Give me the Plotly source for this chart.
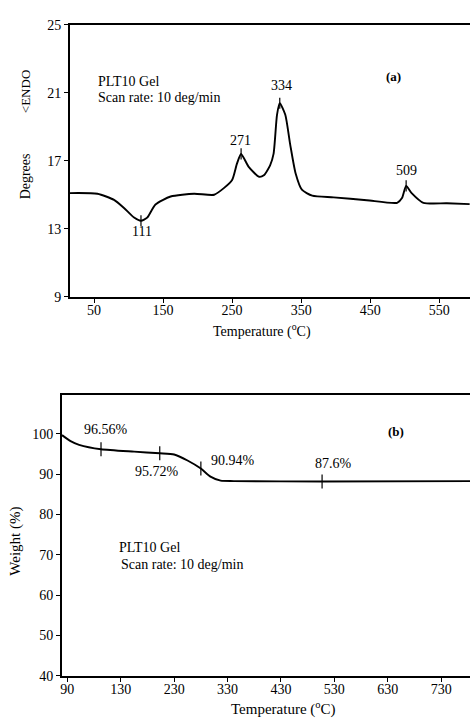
import plotly.graph_objects as go

# ---- Panel (a): DTA curve ----
dta_temp = [15, 55, 79, 93, 108, 118, 127, 139, 161, 195, 224, 238, 250, 257, 263,
            274, 289, 296, 305, 310, 315, 319, 327, 334, 342, 351, 366, 397, 445,
            489, 496, 502, 510, 527, 561, 594]
dta_deg = [15.1, 15.06, 14.7, 14.24, 13.66, 13.47, 13.66, 14.43, 14.9, 15.06, 15.0,
           15.39, 15.87, 16.83, 17.4, 16.64, 16.06, 16.15, 16.73, 17.4, 19.7, 20.38,
           19.7, 17.98, 16.25, 15.3, 14.95, 14.85, 14.68, 14.53, 14.81, 15.52, 15.1,
           14.53, 14.5, 14.45]
dta_peak_temp = [118, 263, 319, 502]
dta_peak_deg = [13.47, 17.4, 20.38, 15.52]
dta_peak_labels = ["111", "271", "334", "509"]
dta_xticks = [50, 150, 250, 350, 450, 550]
dta_yticks = [9, 13, 17, 21, 25]

# ---- Panel (b): TGA curve ----
tga_temp = [20, 36, 52, 93, 155, 203, 230, 255, 280, 298, 317, 342, 507, 784]
tga_weight = [99.7, 98.2, 97.3, 96.2, 95.6, 95.2, 94.9, 93.4, 91.4, 89.4, 88.4,
              88.3, 88.2, 88.3]
tga_mark_temp = [93, 203, 280, 507]
tga_mark_weight = [96.2, 95.2, 91.4, 88.2]
tga_mark_labels = ["96.56%", "95.72%", "90.94%", "87.6%"]
tga_xtickvals = [30, 130, 230, 330, 430, 530, 630, 730]
tga_xticktext = ["90", "130", "230", "330", "430", "530", "630", "730"]
tga_yticks = [40, 50, 60, 70, 80, 90, 100]

FONT = "Liberation Serif"
W, H = 470, 724

fig = go.Figure()
fig.add_trace(go.Scatter(x=dta_temp, y=dta_deg, mode="lines",
                         line=dict(color="black", width=1.9, shape="spline", smoothing=0.6),
                         xaxis="x", yaxis="y", showlegend=False, hoverinfo="skip"))
fig.add_trace(go.Scatter(x=dta_peak_temp, y=dta_peak_deg, mode="markers",
                         marker=dict(symbol="line-ns-open", size=8, color="black",
                                     line=dict(width=1.2, color="black")),
                         xaxis="x", yaxis="y", showlegend=False, hoverinfo="skip"))
fig.add_trace(go.Scatter(x=tga_temp, y=tga_weight, mode="lines",
                         line=dict(color="black", width=1.9, shape="spline", smoothing=0.6),
                         xaxis="x2", yaxis="y2", showlegend=False, hoverinfo="skip"))
fig.add_trace(go.Scatter(x=tga_mark_temp, y=tga_mark_weight, mode="markers",
                         marker=dict(symbol="line-ns-open", size=10, color="black",
                                     line=dict(width=1.2, color="black")),
                         xaxis="x2", yaxis="y2", showlegend=False, hoverinfo="skip"))

axis_common = dict(showline=True, linecolor="black", linewidth=1.5, showgrid=False, zeroline=False,
                   ticks="outside", ticklen=4, tickcolor="black", tickwidth=1.2,
                   tickfont=dict(family=FONT, size=14, color="black"))

fig.update_layout(
    width=W, height=H, margin=dict(l=0, r=0, t=0, b=0),
    paper_bgcolor="white", plot_bgcolor="white",
    font=dict(family=FONT, size=14, color="black"),
    xaxis=dict(axis_common, domain=[69 / W, 1], range=[15, 594.5], tickvals=dta_xticks,
               mirror=True, anchor="y", ticklabelstandoff=-4),
    yaxis=dict(axis_common, domain=[1 - 296 / H, 1 - 18 / H], range=[9, 25], tickvals=dta_yticks,
               anchor="x"),
    xaxis2=dict(axis_common, domain=[61 / W, 1], range=[19.7, 784], tickvals=tga_xtickvals,
                ticktext=tga_xticktext, mirror=True, anchor="y2", ticklabelstandoff=-4),
    yaxis2=dict(axis_common, domain=[1 - 683 / H, 1 - 396 / H], range=[40, 109.7],
                tickvals=tga_yticks, anchor="x2"),
)

ann = []


def txt(x, y, text, xref, yref, size=14, xanchor="center", angle=0):
    ann.append(dict(x=x, y=y, xref=xref, yref=yref, text=text, showarrow=False,
                    xanchor=xanchor, yanchor="middle", textangle=angle, font=dict(size=size)))


# panel (a)
label_pos_a = [(119, 12.85), (262, 18.2), (322, 21.45), (502, 16.4)]
for (tx, ty), t in zip(label_pos_a, dta_peak_labels):
    txt(tx, ty, t, "x", "y")
txt(483, 21.95, "<b>(a)</b>", "x", "y", size=13)
txt(53, 21.66, "PLT10 Gel", "x", "y", xanchor="left")
txt(53, 20.74, "Scan rate: 10 deg/min", "x", "y", xanchor="left")
txt(262 / W, 1 - 330 / H, "Temperature (<sup>o</sup>C)", "paper", "paper")
txt(24 / W, 1 - 173 / H, "Degrees", "paper", "paper", angle=-90)
txt(24 / W, 1 - 86 / H, "&lt;ENDO", "paper", "paper", size=13, angle=-90)

# panel (b)
label_pos_b = [(102, 101.0), (197, 90.75), (341, 93.4), (528, 92.75)]
for (tx, ty), t in zip(label_pos_b, tga_mark_labels):
    txt(tx, ty, t, "x2", "y2")
txt(645, 100.65, "<b>(b)</b>", "x2", "y2", size=13)
txt(123, 71.8, "PLT10 Gel", "x2", "y2", xanchor="left")
txt(127, 67.5, "Scan rate: 10 deg/min", "x2", "y2", xanchor="left")
txt(283 / W, 1 - 716 / H, "Temperature (<sup>o</sup>C)", "paper", "paper", size=15)
txt(15 / W, 1 - 545 / H, "Weight (%)", "paper", "paper", size=15, angle=-90)

fig.update_layout(annotations=ann)
fig.write_html("out.html", config={"displayModeBar": False},
               post_script="document.body.style.margin='0';document.body.style.overflow='hidden';")
